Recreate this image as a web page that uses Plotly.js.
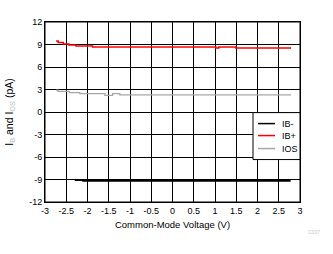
<!DOCTYPE html>
<html>
<head>
<meta charset="utf-8">
<script src="https://cdn.plot.ly/plotly-3.0.1.min.js"></script>
<style>html,body{margin:0;padding:0;background:#fff;}#chart{width:333px;height:254px;}</style>
</head>
<body>
<div id="chart"></div>
<script>
// Series data
const ibMinusX = [-2.30, -2.12, -2.10, -1.5, -1.0, -0.5, 0, 0.5, 1.0, 1.5, 2.0, 2.5, 2.78];
const ibMinusY = [-9.08, -9.08, -9.15, -9.15, -9.15, -9.15, -9.15, -9.15, -9.15, -9.15, -9.15, -9.15, -9.15];

const ibPlusX = [-2.74, -2.69, -2.57, -2.44, -2.27, -1.88, -1.0, 0, 1.02, 1.09, 1.49, 2.0, 2.5, 2.79];
const ibPlusY = [9.47, 9.28, 9.07, 8.94, 8.80, 8.67, 8.67, 8.67, 8.53, 8.67, 8.53, 8.53, 8.53, 8.53];

const iosX = [-2.74, -2.69, -2.43, -2.18, -1.59, -1.41, -1.24, -0.5, 0.5, 1.5, 2.79];
const iosY = [2.93, 2.75, 2.57, 2.44, 2.21, 2.44, 2.27, 2.27, 2.27, 2.27, 2.27];

const seriesNames = ["IB-", "IB+", "IOS"];
const seriesColors = ["#000000", "#ff0000", "#a6a6a6"];

const xTickVals = [-3, -2.5, -2, -1.5, -1, -0.5, 0, 0.5, 1, 1.5, 2, 2.5, 3];
const xTickText = ["-3", "-2.5", "-2", "-1.5", "-1", "-0.5", "0", "0.5", "1", "1.5", "2", "2.5", "3"];
const yTickVals = [-12, -9, -6, -3, 0, 3, 6, 9, 12];
const yTickText = ["-12", "-9", "-6", "-3", "0", "3", "6", "9", "12"];

const FONT = "Liberation Sans, Arial, sans-serif";

const traces = [
  {x: ibMinusX, y: ibMinusY, name: seriesNames[0], mode: "lines", line: {color: seriesColors[0], width: 2, shape: "hv"}},
  {x: ibPlusX, y: ibPlusY, name: seriesNames[1], mode: "lines", line: {color: seriesColors[1], width: 1.5, shape: "hv"}},
  {x: iosX, y: iosY, name: seriesNames[2], mode: "lines", line: {color: seriesColors[2], width: 1.2, shape: "hv"}}
];

// Manual legend box
const legX0 = 253, legX1 = 300, legY0 = 113, legRowY = [124, 136, 149];
const shapes = [{type: "rect", xref: "paper", yref: "paper", x0: 0, y0: 0, x1: 1, y1: 1, line: {color: "#000", width: 1}, fillcolor: "rgba(0,0,0,0)", layer: "above"}];
const annotations = [];
const L = 45, R = 300, T = 22.3, B = 202.5;
const px = v => (v - L) / (R - L);
const py = v => (B - v) / (B - T);
shapes.push({type: "rect", xref: "paper", yref: "paper", x0: px(legX0), x1: px(legX1), y0: py(160), y1: py(legY0), line: {color: "#000", width: 1}, fillcolor: "#fff", layer: "above"});
seriesNames.forEach((n, i) => {
  shapes.push({type: "line", xref: "paper", yref: "paper", x0: px(258), x1: px(275), y0: py(legRowY[i]), y1: py(legRowY[i]), line: {color: seriesColors[i], width: 1.5}, layer: "above"});
  annotations.push({xref: "paper", yref: "paper", x: px(280), y: py(legRowY[i]), xanchor: "left", yanchor: "middle", text: n, showarrow: false, font: {family: FONT, size: 9, color: "#000"}});
});
annotations.push({xref: "paper", yref: "paper", x: px(322), y: py(233), xanchor: "right", yanchor: "middle", text: "C007", showarrow: false, font: {family: FONT, size: 5, color: "#c8c8c8"}});

const layout = {
  width: 333, height: 254,
  margin: {l: L, r: 333 - R, t: T, b: 254 - B},
  paper_bgcolor: "#fff", plot_bgcolor: "#fff",
  showlegend: false,
  font: {family: FONT, size: 9, color: "#000"},
  xaxis: {
    range: [-3, 3], tickvals: xTickVals, ticktext: xTickText,
    showgrid: true, gridcolor: "#000", gridwidth: 1, zeroline: false,
    showline: true, linecolor: "#000", linewidth: 1, mirror: true, ticks: "",
    tickfont: {family: FONT, size: 9}, fixedrange: true,
    title: {text: "Common-Mode Voltage (V)", font: {family: FONT, size: 9.5}, standoff: 6}
  },
  yaxis: {
    range: [-12, 12], tickvals: yTickVals, ticktext: yTickText,
    showgrid: true, gridcolor: "#000", gridwidth: 1, zeroline: false,
    showline: true, linecolor: "#000", linewidth: 1, mirror: true, ticks: "",
    tickfont: {family: FONT, size: 9}, fixedrange: true,
    title: {text: "I<sub><span style=\"color:#bbbbbb\">B</span></sub> and I<sub><span style=\"color:#bbbbbb\">OS</span></sub> (pA)", font: {family: FONT, size: 10.5}, standoff: 13}
  },
  shapes: shapes,
  annotations: annotations
};

Plotly.newPlot("chart", traces, layout, {displayModeBar: false, staticPlot: true});
</script>
</body>
</html>
